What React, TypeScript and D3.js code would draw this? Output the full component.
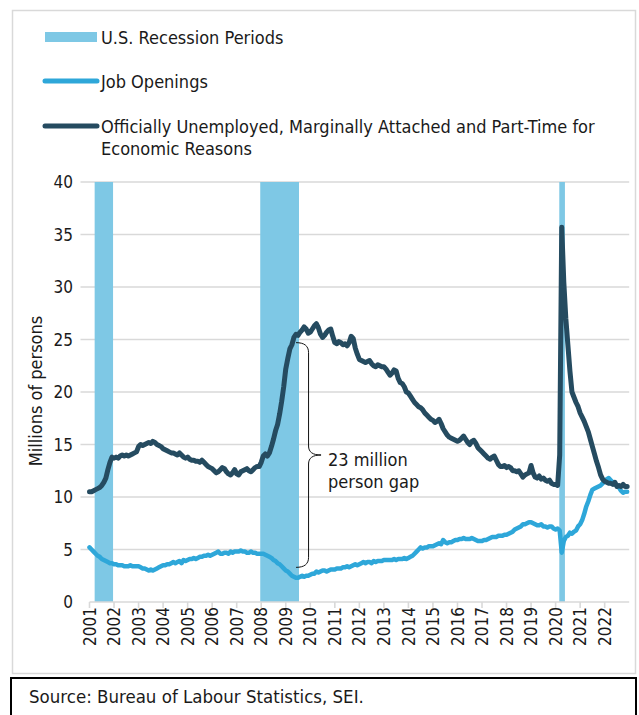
import React from "react";
import * as d3 from "d3";

// Monthly levels, millions of persons, Jan 2001 – Dec 2022
const startYear = 2001;

const underutilized: number[] = [
  // 2001
  10.5, 10.5, 10.6, 10.7, 10.8, 10.9, 11.1, 11.4, 11.8, 12.6, 13.3, 13.8,
  // 2002
  13.7, 13.8, 13.7, 13.9, 14.0, 13.9, 14.0, 13.9, 14.0, 14.1, 14.2, 14.3,
  // 2003
  14.8, 15.0, 14.9, 15.0, 15.1, 15.2, 15.1, 15.3, 15.2, 15.0, 14.9, 14.8,
  // 2004
  14.6, 14.5, 14.4, 14.3, 14.2, 14.2, 14.1, 14.0, 14.2, 14.0, 13.8, 13.7,
  // 2005
  13.8, 13.6, 13.5, 13.5, 13.4, 13.4, 13.3, 13.5, 13.3, 13.1, 12.9, 12.8,
  // 2006
  12.7, 12.5, 12.3, 12.4, 12.6, 12.8, 12.7, 12.4, 12.2, 12.1, 12.3, 12.6,
  // 2007
  12.2, 12.1, 12.4, 12.5, 12.6, 12.7, 12.5, 12.4, 12.6, 12.8, 12.9, 12.9,
  // 2008
  13.3, 13.9, 14.1, 13.9, 14.2, 14.8, 15.5, 16.3, 16.9, 17.9, 19.1, 20.5,
  // 2009
  22.2, 23.2, 24.1, 24.5, 25.2, 25.5, 25.4, 25.7, 25.9, 26.2, 26.0, 25.6,
  // 2010
  25.7, 26.0, 26.3, 26.5, 26.1, 25.5, 25.2, 25.4, 25.7, 25.9, 26.0, 25.3,
  // 2011
  24.7, 24.6, 24.8, 24.7, 24.5, 24.6, 24.4, 24.7, 25.3, 25.1, 24.2, 23.6,
  // 2012
  23.1, 23.0, 22.9, 22.8, 22.9, 23.0, 22.7, 22.5, 22.4, 22.6, 22.5, 22.4,
  // 2013
  22.4, 22.2, 21.9, 21.6, 21.8, 22.1, 22.0, 21.3, 20.9, 20.8, 20.5, 20.0,
  // 2014
  19.9, 19.6, 19.3, 19.0, 18.8, 18.6, 18.5, 18.3, 18.0, 17.8, 17.6, 17.4,
  // 2015
  17.3, 17.1, 17.2, 17.4, 17.0, 16.5, 16.2, 15.9, 15.7, 15.6, 15.5, 15.4,
  // 2016
  15.3, 15.4, 15.6, 15.8, 15.5, 15.2, 15.0, 15.3, 15.4, 15.1, 14.7, 14.5,
  // 2017
  14.3, 14.1, 13.9, 13.7, 13.6, 13.8, 13.9, 13.5, 13.1, 12.9, 12.9, 13.0,
  // 2018
  12.8, 12.9, 12.8, 12.5, 12.5, 12.4, 12.5, 12.2, 11.9, 12.1, 12.2, 12.3,
  // 2019
  13.0, 12.3, 11.9, 11.8, 12.0, 11.7, 11.8, 11.6, 11.5, 11.6, 11.3, 11.2,
  // 2020
  11.2, 11.1, 14.0, 35.7, 30.5, 27.0, 24.5, 22.0, 20.0, 19.5, 19.0, 18.6,
  // 2021
  18.0, 17.6, 17.2, 16.7, 16.2, 15.5, 14.8, 14.1, 13.4, 12.8, 12.1, 11.7,
  // 2022
  11.5, 11.4, 11.3, 11.3, 11.2, 11.4, 11.0, 11.1, 11.0, 11.2, 11.0, 11.0,
];

const jobOpenings: number[] = [
  // 2001
  5.2, 5.0, 4.8, 4.6, 4.4, 4.3, 4.1, 4.0, 3.9, 3.8, 3.7, 3.7,
  // 2002
  3.6, 3.6, 3.5, 3.5, 3.5, 3.4, 3.4, 3.4, 3.5, 3.4, 3.4, 3.4,
  // 2003
  3.4, 3.3, 3.2, 3.2, 3.1, 3.0, 3.1, 3.0, 3.1, 3.2, 3.3, 3.4,
  // 2004
  3.5, 3.5, 3.6, 3.6, 3.7, 3.8, 3.7, 3.8, 3.9, 3.7, 4.0, 3.9,
  // 2005
  4.0, 4.1, 4.1, 4.2, 4.1, 4.2, 4.3, 4.3, 4.4, 4.4, 4.5, 4.4,
  // 2006
  4.5, 4.6, 4.7, 4.8, 4.6, 4.6, 4.7, 4.7, 4.6, 4.8, 4.7, 4.8,
  // 2007
  4.8, 4.8, 4.9, 4.8, 4.8, 4.7, 4.7, 4.8, 4.7, 4.7, 4.6, 4.6,
  // 2008
  4.6, 4.6, 4.5, 4.4, 4.3, 4.2, 4.0, 3.9, 3.7, 3.6, 3.4, 3.2,
  // 2009
  3.0, 2.9, 2.7, 2.5, 2.4, 2.3, 2.3, 2.4, 2.5, 2.4, 2.5, 2.5,
  // 2010
  2.6, 2.7, 2.7, 2.9, 2.8, 2.9, 3.0, 3.0, 2.9, 3.0, 3.1, 3.1,
  // 2011
  3.1, 3.2, 3.2, 3.2, 3.3, 3.3, 3.4, 3.3, 3.4, 3.5, 3.6, 3.5,
  // 2012
  3.6, 3.7, 3.8, 3.7, 3.8, 3.8, 3.7, 3.9, 3.8, 3.9, 3.9, 3.9,
  // 2013
  4.0, 4.0, 4.0, 4.0, 4.0, 4.1, 4.0, 4.1, 4.1, 4.1, 4.2, 4.1,
  // 2014
  4.2, 4.3, 4.4, 4.6, 4.8, 5.0, 5.2, 5.1, 5.2, 5.2, 5.3, 5.3,
  // 2015
  5.3, 5.4, 5.5, 5.6, 5.5, 5.9, 5.7, 5.6, 5.7, 5.7, 5.8, 5.9,
  // 2016
  5.9, 6.0, 6.0, 6.1, 6.0, 6.0, 6.0, 6.1, 6.0, 5.9, 5.8, 5.8,
  // 2017
  5.8, 5.9, 5.9, 6.0, 6.1, 6.2, 6.2, 6.2, 6.3, 6.3, 6.3, 6.4,
  // 2018
  6.4, 6.5, 6.6, 6.7, 6.9, 7.0, 7.1, 7.2, 7.4, 7.4, 7.5, 7.6,
  // 2019
  7.6, 7.5, 7.4, 7.3, 7.3, 7.4, 7.2, 7.2, 7.1, 7.2, 7.2, 7.0,
  // 2020
  6.9, 7.0, 6.8, 4.7, 5.8, 6.2, 6.3, 6.6, 6.5, 6.7, 6.8, 7.2,
  // 2021
  7.4, 7.8, 8.4, 9.1, 9.6, 10.2, 10.7, 10.8, 10.9, 11.0, 11.1, 11.3,
  // 2022
  11.5, 11.7, 11.8, 11.6, 11.4, 11.3, 11.1, 10.9, 10.6, 10.4, 10.5, 10.5,
];

// NBER recessions as decimal years [start, end]
const recessions: [number, number][] = [
  [2001.21, 2001.96],
  [2007.96, 2009.54],
  [2020.15, 2020.38],
];

const yearTicks: number[] = d3.range(2001, 2023);
const valueTicks: number[] = [0, 5, 10, 15, 20, 25, 30, 35, 40];

const gapLabel = ["23 million", "person gap"];
const sourceText = "Source: Bureau of Labour Statistics, SEI.";
const yTitle = "Millions of persons";
const legendItems = [
  { kind: "band", lines: ["U.S. Recession Periods"] },
  { kind: "jobs", lines: ["Job Openings"] },
  {
    kind: "under",
    lines: [
      "Officially Unemployed, Marginally Attached and Part-Time for",
      "Economic Reasons",
    ],
  },
];

// Gap bracket extent (millions) and position (decimal year)
const bracketTop = 24.7;
const bracketBottom = 3.3;
const bracketYear = 2009.42;

const COLORS = {
  band: "#7ec8e5",
  jobs: "#2ea7d9",
  under: "#254b60",
  grid: "#d9d9d9",
  text: "#1a1a1a",
};

const FONT = "'DejaVu Sans Condensed', 'DejaVu Sans', sans-serif";

export default function App() {
  const W = 639;
  const H = 715;

  const x = d3.scaleLinear().domain([2001, 2023]).range([89.5, 629.2]);
  const y = d3.scaleLinear().domain([0, 40]).range([602, 182]);

  const toPoints = (vals: number[]) =>
    vals.map((v, i) => [startYear + i / 12, v] as [number, number]);

  const line = d3
    .line<[number, number]>()
    .x((d) => x(d[0]))
    .y((d) => y(d[1]));

  const plotLeft = x(2001);
  const plotRight = x.range()[1];

  // Curly bracket path
  const bx = x(bracketYear);
  const bt = y(bracketTop);
  const bb = y(bracketBottom);
  const bm = (bt + bb) / 2;
  const vx = bx + 12.5;
  const tipX = bx + 25;
  const bracePath = [
    `M${bx},${bt}`,
    `C${bx + 8},${bt} ${vx},${bt + 3} ${vx},${bt + 10}`,
    `L${vx},${bm - 9}`,
    `C${vx},${bm - 3} ${vx + 4},${bm} ${tipX},${bm}`,
    `C${vx + 4},${bm} ${vx},${bm + 3} ${vx},${bm + 9}`,
    `L${vx},${bb - 10}`,
    `C${vx},${bb - 3} ${bx + 8},${bb} ${bx},${bb}`,
  ].join(" ");

  const legendY = [37, 81, 126];

  return (
    <svg
      width={W}
      height={H}
      style={{ position: "absolute", left: 0, top: 0 }}
      fontFamily={FONT}
    >
      <rect x={0} y={0} width={W} height={H} fill="#fff" />
      {/* chart frame */}
      <rect
        x={12.5}
        y={10.5}
        width={623}
        height={663}
        fill="none"
        stroke={COLORS.grid}
        strokeWidth={1.5}
      />

      {/* legend */}
      {legendItems.map((item, i) => {
        const ly = legendY[i];
        return (
          <g key={item.kind}>
            {item.kind === "band" ? (
              <rect x={45} y={ly - 5} width={52} height={10} fill={COLORS.band} />
            ) : (
              <line
                x1={45}
                x2={97}
                y1={ly}
                y2={ly}
                stroke={item.kind === "jobs" ? COLORS.jobs : COLORS.under}
                strokeWidth={5}
                strokeLinecap="round"
              />
            )}
            {item.lines.map((t, j) => (
              <text
                key={j}
                x={101}
                y={ly + 6.5 + j * 22}
                fontSize={18}
                fill={COLORS.text}
              >
                {t}
              </text>
            ))}
          </g>
        );
      })}

      {/* horizontal gridlines with left tick stubs */}
      {valueTicks
        .filter((v) => v > 0)
        .map((v) => (
          <line
            key={v}
            x1={plotLeft - 9}
            x2={plotRight}
            y1={y(v)}
            y2={y(v)}
            stroke={COLORS.grid}
            strokeWidth={1.6}
          />
        ))}

      {/* recession bands */}
      {recessions.map(([a, b], i) => (
        <rect
          key={i}
          x={x(a)}
          y={y(40)}
          width={x(b) - x(a)}
          height={y(0) - y(40)}
          fill={COLORS.band}
        />
      ))}

      {/* x axis */}
      <line
        x1={plotLeft}
        x2={plotRight}
        y1={y(0)}
        y2={y(0)}
        stroke={COLORS.grid}
        strokeWidth={1.6}
      />
      {yearTicks.map((yr) => (
        <g key={yr}>
          <line
            x1={x(yr)}
            x2={x(yr)}
            y1={y(0)}
            y2={y(0) + 6}
            stroke={COLORS.grid}
            strokeWidth={1.6}
          />
          <text
            transform={`translate(${x(yr)},${y(0) + 5}) rotate(-90)`}
            textAnchor="end"
            dy="0.36em"
            fontSize={17}
            fill={COLORS.text}
          >
            {yr}
          </text>
        </g>
      ))}

      {/* y axis labels */}
      {valueTicks.map((v) => (
        <text
          key={v}
          x={73}
          y={y(v)}
          dy="0.36em"
          textAnchor="end"
          fontSize={17}
          fill={COLORS.text}
        >
          {v}
        </text>
      ))}
      <text
        transform={`translate(42,${(y(0) + y(40)) / 2 - 1}) rotate(-90)`}
        textAnchor="middle"
        fontSize={18}
        fill={COLORS.text}
      >
        {yTitle}
      </text>

      {/* series */}
      <path
        d={line(toPoints(jobOpenings)) ?? ""}
        fill="none"
        stroke={COLORS.jobs}
        strokeWidth={4.5}
        strokeLinejoin="round"
        strokeLinecap="round"
      />
      <path
        d={line(toPoints(underutilized)) ?? ""}
        fill="none"
        stroke={COLORS.under}
        strokeWidth={5}
        strokeLinejoin="round"
        strokeLinecap="round"
      />

      {/* gap annotation */}
      <path d={bracePath} fill="none" stroke="#111" strokeWidth={1} />
      {gapLabel.map((t, i) => (
        <text
          key={i}
          x={tipX + 7}
          y={bm + 11 + i * 22}
          fontSize={18}
          fill={COLORS.text}
        >
          {t}
        </text>
      ))}

      {/* source box */}
      <rect
        x={11}
        y={678}
        width={625}
        height={45}
        fill="none"
        stroke="#000"
        strokeWidth={2}
      />
      <text x={29} y={703} fontSize={18.5} fill={COLORS.text}>
        {sourceText}
      </text>
    </svg>
  );
}
